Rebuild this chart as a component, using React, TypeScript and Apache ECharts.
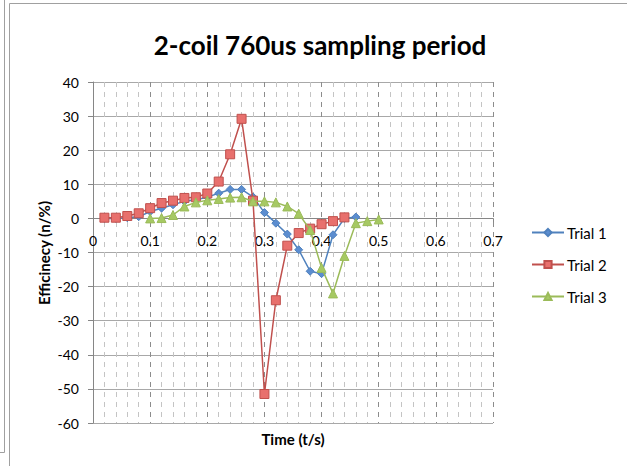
import React, { useEffect, useRef } from "react";
import * as echarts from "echarts";

const timeValues = [0.02, 0.04, 0.06, 0.08, 0.1, 0.12, 0.14, 0.16, 0.18, 0.2, 0.22, 0.24, 0.26, 0.28, 0.3, 0.32, 0.34, 0.36, 0.38, 0.4, 0.42, 0.44, 0.46, 0.48, 0.5];
const trial1 = [0, 0, 0.2, 0.5, 2.0, 3.0, 4.0, 5.0, 5.5, 6.2, 7.4, 8.5, 8.5, 6.3, 1.7, -1.4, -4.6, -9.2, -15.5, -16.2, -4.8, 0, 0.4, null, null];
const trial2 = [0.2, 0.2, 0.7, 1.5, 3.0, 4.5, 5.2, 6.0, 6.2, 7.3, 10.8, 18.8, 29.2, 5.2, -51.5, -24, -8.0, -4.3, -3.0, -1.7, -0.8, 0.3, null, null, null];
const trial3 = [null, null, null, null, 0, 0.1, 1.0, 3.5, 4.7, 5.3, 5.7, 6.1, 6.2, 5.0, 5.0, 4.7, 3.5, 1.4, -3.4, -14.5, -22, -11, -1.4, -0.8, -0.3];
const seriesNames = ["Trial 1", "Trial 2", "Trial 3"];
const titleText = "2-coil 760us sampling period";
const xTitle = "Time (t/s)";
const yTitle = "Efficinecy (n/%)";

const FONT = "Lato, 'Open Sans', sans-serif";
const Y_MIN = -60;
const Y_MAX = 40;
const GRID_TOP = 82;
const GRID_H = 341;

function pairs(ys: (number | null)[]) {
  return timeValues.map((t, i) => [t, ys[i]]).filter((p) => p[1] !== null);
}

export default function App() {
  const ref = useRef<HTMLDivElement>(null);
  useEffect(() => {
    if (!ref.current) return;
    const chart = echarts.init(ref.current, null, { renderer: "svg" });
    const lineColors = ["#4F81BD", "#C0504D", "#9BBB59"];
    const fillColors = ["#5B8DD0", "#E8706D", "#A6C963"];
    const symbols = ["diamond", "rect", "triangle"];
    const sizes = [8, 9, 9];
    const datas = [trial1, trial2, trial3];
    // distance from bottom of grid to value 0, so the labelled x axis crosses at y = 0
    const zeroOffset = -((0 - Y_MIN) / (Y_MAX - Y_MIN)) * GRID_H;
    chart.setOption({
      animation: false,
      textStyle: { fontFamily: FONT },
      grid: { left: 93, top: GRID_TOP, width: 400, height: GRID_H },
      xAxis: [
        {
          type: "value",
          min: 0,
          max: 0.7,
          interval: 0.1,
          axisLine: { show: false },
          axisTick: { show: false },
          axisLabel: { show: false },
          splitLine: { show: true, lineStyle: { color: "#8c8c8c", type: [5, 5], width: 1 } },
          minorTick: { show: false, splitNumber: 5 },
          minorSplitLine: { show: true, lineStyle: { color: "#c4c4c4", type: [5, 5], width: 1 } },
        },
        {
          type: "value",
          min: 0,
          max: 0.7,
          interval: 0.1,
          position: "bottom",
          offset: zeroOffset,
          axisLine: { show: true, onZero: false, lineStyle: { color: "#868686", width: 1 } },
          axisTick: { show: true, length: 4, lineStyle: { color: "#868686" } },
          axisLabel: {
            color: "#000",
            fontSize: 14,
            fontFamily: FONT,
            margin: 15,
            formatter: (v: number) => String(+v.toFixed(1)),
          },
          splitLine: { show: false },
        },
      ],
      yAxis: {
        type: "value",
        min: Y_MIN,
        max: Y_MAX,
        interval: 10,
        axisLine: { show: true, onZero: false, lineStyle: { color: "#868686", width: 1 } },
        axisTick: { show: true, length: 5, lineStyle: { color: "#868686" } },
        axisLabel: { color: "#000", fontSize: 14, fontFamily: FONT, margin: 14 },
        splitLine: { show: true, lineStyle: { color: "#a8a8a8", width: 1 } },
      },
      legend: {
        orient: "vertical",
        left: 531,
        top: 225,
        padding: 0,
        itemWidth: 32,
        itemHeight: 9,
        itemGap: 17,
        textStyle: { fontSize: 15, fontFamily: FONT, color: "#000", padding: [0, 0, 0, -2] },
        data: seriesNames,
      },
      graphic: [
        { type: "line", shape: { x1: 9.5, y1: 3.5, x2: 627, y2: 3.5 }, style: { stroke: "#a0a0a0", lineWidth: 1 } },
        { type: "line", shape: { x1: 9.5, y1: 3.5, x2: 9.5, y2: 466 }, style: { stroke: "#a0a0a0", lineWidth: 1 } },
        { type: "line", shape: { x1: 4.5, y1: 0, x2: 4.5, y2: 452.5 }, style: { stroke: "#a0a0a0", lineWidth: 1 } },
        { type: "line", shape: { x1: 0, y1: 452.5, x2: 4.5, y2: 452.5 }, style: { stroke: "#a0a0a0", lineWidth: 1 } },
        {
          type: "text",
          x: 320,
          y: 45,
          style: { text: titleText, font: `bold 26px ${FONT}`, fill: "#000", textAlign: "center", textVerticalAlign: "middle" },
        },
        {
          type: "text",
          x: 293,
          y: 439,
          style: { text: xTitle, font: `bold 15px ${FONT}`, fill: "#000", textAlign: "center", textVerticalAlign: "middle" },
        },
        {
          type: "text",
          x: 44,
          y: 253,
          rotation: Math.PI / 2,
          style: { text: yTitle, font: `bold 15px ${FONT}`, fill: "#000", textAlign: "center", textVerticalAlign: "middle" },
        },
      ],
      series: datas.map((d, i) => ({
        name: seriesNames[i],
        type: "line",
        xAxisIndex: 0,
        data: pairs(d),
        symbol: symbols[i],
        symbolSize: sizes[i],
        showSymbol: true,
        lineStyle: { color: lineColors[i], width: 1.5 },
        itemStyle: { color: fillColors[i], borderColor: lineColors[i], borderWidth: 1 },
        emphasis: { disabled: true },
        z: 2 + i,
      })),
    });
    return () => chart.dispose();
  }, []);
  return (
    <div
      ref={ref}
      style={{ position: "fixed", left: 0, top: 0, width: 627, height: 466, background: "#fff" }}
    />
  );
}
